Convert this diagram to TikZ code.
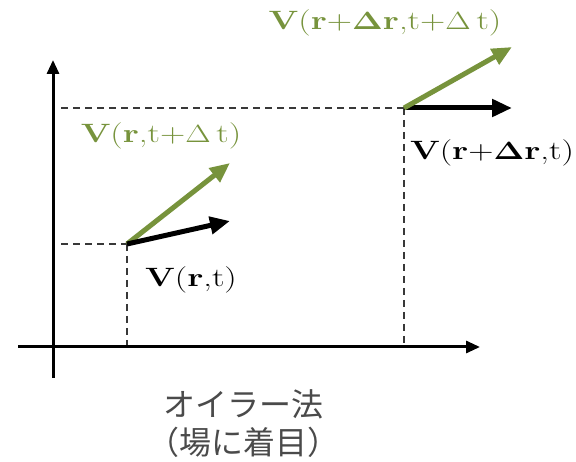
\documentclass[tikz,border=0pt]{standalone}
\usepackage[no-math]{fontspec}
\usepackage{graphicx}
\newfontfamily\jpfont{Noto Sans CJK JP}
\usetikzlibrary{arrows.meta}
\definecolor{olive}{HTML}{77933C}
\definecolor{dashgray}{HTML}{383838}
\definecolor{jpgray}{HTML}{4A4A4A}
\newcommand{\widetxt}[1]{\scalebox{1.32}[1]{#1}}
\begin{document}
\begin{tikzpicture}[x=1pt,y=-1pt,
  axis/.style={line width=3pt,-{Triangle[length=14pt,width=12pt]}},
  guide/.style={draw=dashgray,line width=1.7pt,dash pattern=on 7pt off 5pt},
  vec/.style={line width=5pt,-{Triangle[length=20pt,width=17pt]}},
  greenvec/.style={vec,draw=olive,fill=olive},
  blackvec/.style={vec,draw=black,fill=black},
  lbl/.style={inner sep=0pt,anchor=base,font=\fontsize{26.5}{30}\selectfont},
  jp/.style={inner sep=0pt,text=jpgray,font=\jpfont\fontsize{32}{36}\selectfont}]
\useasboundingbox (0,0) rectangle (576,462);
% coordinates
\coordinate (yb) at (53,378);
\coordinate (yt) at (53,60);
\coordinate (xl) at (18,347);
\coordinate (xr) at (480,347);
\coordinate (p1) at (127,244);
\coordinate (p2) at (404,108);
\coordinate (h1) at (61,244);
\coordinate (h2) at (61,108);
\coordinate (b1) at (127,347);
\coordinate (b2) at (404,347);
\coordinate (g1) at (230,163);
\coordinate (k1) at (230,221);
\coordinate (g2) at (512,47);
\coordinate (k2) at (512,108);
% guides
\draw[guide] (h1) -- (p1);
\draw[guide] (h2) -- (p2);
\draw[guide] (p1) -- (b1);
\draw[guide] (p2) -- (b2);
% axes
\draw[axis] (yb) -- (yt);
\draw[axis] (xl) -- (xr);
% vectors
\draw[greenvec] (p1) -- (g1);
\draw[blackvec] (p1) -- (k1);
\draw[blackvec] (p2) -- (k2);
\draw[greenvec] (p2) -- (g2);
% labels
\node[lbl,text=olive] (l1) at (161,143) {\widetxt{\textbf{V}(\textbf{r},t+$\Delta$\,t)}};
\node[lbl] (l2) at (191,287) {\widetxt{\textbf{V}(\textbf{r},t)}};
\node[lbl,text=olive] (l3) at (385,30) {\widetxt{\textbf{V}(\textbf{r}+$\mathbf{\Delta}$\textbf{r},t+$\Delta$\,t)}};
\node[lbl] (l4) at (492,160) {\widetxt{\textbf{V}(\textbf{r}+$\mathbf{\Delta}$\textbf{r},t)}};
\node[jp] (j1) at (243,404) {オイラー法};
\node[jp] (j2) at (243,442) {（場に着目）};
\end{tikzpicture}
\end{document}
